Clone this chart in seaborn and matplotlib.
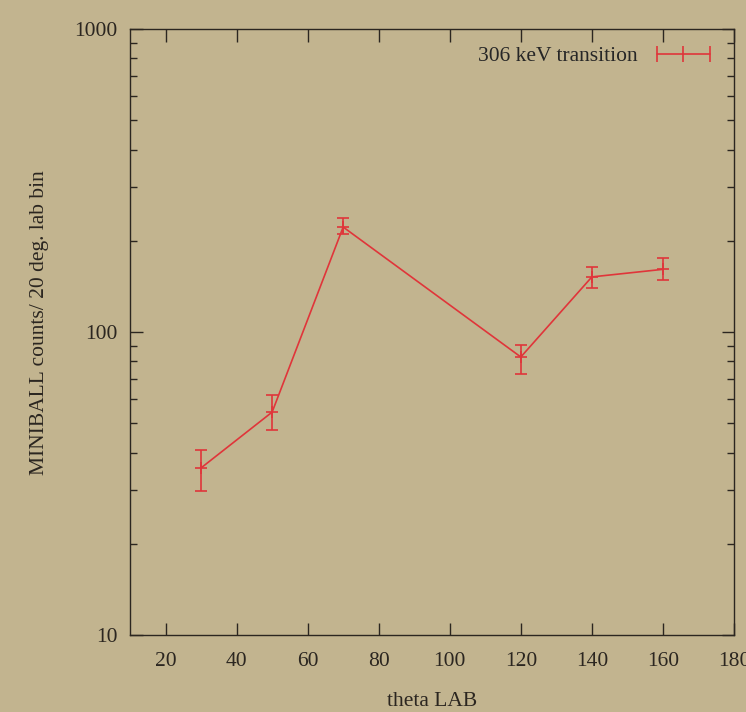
import numpy as np
import seaborn as sns
import matplotlib.pyplot as plt
from matplotlib.lines import Line2D
from matplotlib.ticker import FixedLocator, FuncFormatter, LogLocator, NullFormatter

# values
theta = [30, 50, 70, 120, 140, 160]
counts = [35.6, 54.4, 222, 82.7, 152, 161]
err_low = [29.9, 47.5, 210.5, 72.7, 139.7, 148.5]
err_high = [40.8, 62.0, 237.8, 90.6, 163.8, 175.5]
x_ticks = [20, 40, 60, 80, 100, 120, 140, 160, 180]
y_ticks = [10, 100, 1000]
series_label = "306 keV transition"

bg = "#c2b48f"
red = "#e0353a"
ink = "#2b2620"

sns.set_style("ticks")
plt.rcParams["font.family"] = ["Liberation Serif", "DejaVu Serif"]

fig = plt.figure(figsize=(7.46, 7.12), dpi=100)
fig.patch.set_facecolor(bg)
ax = fig.add_axes([130 / 746, 77 / 712, 604 / 746, 606 / 712])
ax.set_facecolor(bg)

sns.lineplot(x=theta, y=counts, color=red, linewidth=1.2, ax=ax, legend=False)
yerr = [np.array(counts) - np.array(err_low), np.array(err_high) - np.array(counts)]
ax.errorbar(theta, counts, yerr=yerr, fmt="+", color=red, ecolor=red,
            elinewidth=1.2, capsize=4.5, capthick=1.2, markersize=9, mew=1.2)

ax.set_yscale("log")
ax.set_xlim(10, 180)
ax.set_ylim(10, 1000)
ax.xaxis.set_major_locator(FixedLocator(x_ticks))
ax.yaxis.set_major_locator(FixedLocator(y_ticks))
ax.yaxis.set_major_formatter(FuncFormatter(lambda v, p: f"{v:g}"))
ax.yaxis.set_minor_locator(LogLocator(base=10, subs=np.arange(2, 10)))
ax.yaxis.set_minor_formatter(NullFormatter())

for s in ax.spines.values():
    s.set_visible(True)
    s.set_color(ink)
    s.set_linewidth(1.0)

ax.tick_params(which="both", direction="in", top=True, right=True, colors=ink,
               labelsize=15.5, width=1.0)
ax.tick_params(which="major", length=9, pad=12)
ax.tick_params(which="minor", length=5)
ax.tick_params(axis="y", which="major", pad=9)

ax.set_xlabel("theta LAB", fontsize=15.5, color=ink, labelpad=15)
ax.set_ylabel("MINIBALL counts/ 20 deg. lab bin", fontsize=15.5, color=ink)
ax.yaxis.set_label_coords(-0.134, 0.515)

handle = Line2D([], [], color=red, linewidth=1.2, marker="|", markersize=12, mew=1.2)
ax.legend([handle], [series_label], loc="upper right", frameon=False, numpoints=3,
          markerfirst=False, fontsize=15.5, handlelength=3.1, handletextpad=0.6,
          borderaxespad=0.4)

fig.savefig("out.png", dpi=100, facecolor=bg)
